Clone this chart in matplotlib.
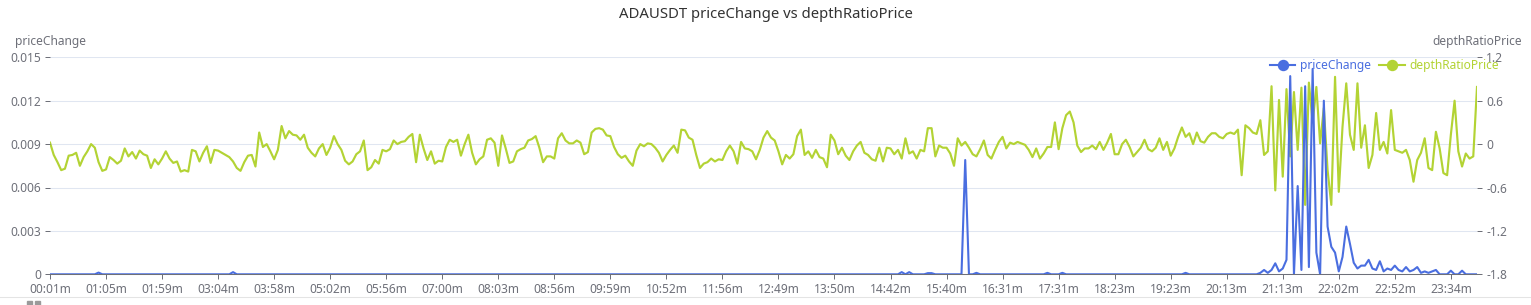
import matplotlib
matplotlib.use('Agg')
import matplotlib.pyplot as plt
from matplotlib.lines import Line2D
from matplotlib.patches import Rectangle
import numpy as np

plt.rcParams['font.family'] = ['Noto Sans', 'DejaVu Sans']

# ---------------- data ----------------
title = 'ADAUSDT priceChange vs depthRatioPrice'
tick_labels = ['00:01m', '01:05m', '01:59m', '03:04m', '03:58m', '05:02m', '05:56m',
               '07:00m', '08:03m', '08:56m', '09:59m', '10:52m', '11:56m', '12:49m',
               '13:50m', '14:42m', '15:40m', '16:31m', '17:31m', '18:23m', '19:23m',
               '20:13m', '21:13m', '22:02m', '22:52m', '23:34m']
label_every = 15

price_change = [
    0, 0, 0, 0, 0, 0, 0, 0, 0, 0, 0, 0, 0, 0.00012, 0,
    0, 0, 0, 0, 0, 0, 0, 0, 0, 0, 0, 0, 0, 0, 0,
    0, 0, 0, 0, 0, 0, 0, 0, 0, 0, 0, 0, 0, 0, 0,
    0, 0, 0, 0, 0.00015, 0, 0, 0, 0, 0, 0, 0, 0, 0, 0,
    0, 0, 0, 0, 0, 0, 0, 0, 0, 0, 0, 0, 0, 0, 0,
    0, 0, 0, 0, 0, 0, 0, 0, 0, 0, 0, 0, 0, 0, 0,
    0, 0, 0, 0, 0, 0, 0, 0, 0, 0, 0, 0, 0, 0, 0,
    0, 0, 0, 0, 0, 0, 0, 0, 0, 0, 0, 0, 0, 0, 0,
    0, 0, 0, 0, 0, 0, 0, 0, 0, 0, 0, 0, 0, 0, 0,
    0, 0, 0, 0, 0, 0, 0, 0, 0, 0, 0, 0, 0, 0, 0,
    0, 0, 0, 0, 0, 0, 0, 0, 0, 0, 0, 0, 0, 0, 0,
    0, 0, 0, 0, 0, 0, 0, 0, 0, 0, 0, 0, 0, 0, 0,
    0, 0, 0, 0, 0, 0, 0, 0, 0, 0, 0, 0, 0, 0, 0,
    0, 0, 0, 0, 0, 0, 0, 0, 0, 0, 0, 0, 0, 0, 0,
    0, 0, 0, 0, 0, 0, 0, 0, 0, 0, 0, 0, 0, 0, 0,
    0, 0, 0, 0.00015, 0, 0.00015, 0, 0, 0, 0, 0.00008, 0.00008, 0, 0, 0,
    0, 0, 0, 0, 0, 0.0079, 0, 0, 0.0001, 0, 0, 0, 0, 0, 0,
    0, 0, 0, 0, 0, 0, 0, 0, 0, 0, 0, 0, 0.0001, 0, 0,
    0, 0.0001, 0, 0, 0, 0, 0, 0, 0, 0, 0, 0, 0, 0, 0,
    0, 0, 0, 0, 0, 0, 0, 0, 0, 0, 0, 0, 0, 0, 0,
    0, 0, 0, 0, 0.0001, 0, 0, 0, 0, 0, 0, 0, 0, 0, 0,
    0, 0, 0, 0, 0, 0, 0, 0, 0, 0.0001, 0.0003, 0.0001, 0.0003, 0.00076, 0.0002,
    0.0004, 0.001, 0.0137, 0.0, 0.0061, 0.0003, 0.013, 0.0005, 0.0142, 0.0015, 0.0, 0.012, 0.0033, 0.0019, 0.0015,
    0.0002, 0.0012, 0.0033, 0.0021, 0.0008, 0.0004, 0.0006, 0.0006, 0.001, 0.0004, 0.0003, 0.0009, 0.0002, 0.0004, 0.0003,
    0.0006, 0.0003, 0.0002, 0.0005, 0.0002, 0.0003, 0.0005, 0.0001, 0.0002, 0.0001, 0.0002, 0.0003, 0, 0, 0,
    0.00025, 0, 0, 0.00025, 0, 0, 0, 0,
]

depth_ratio_price = [
    0.02, -0.15, -0.25, -0.36, -0.34, -0.16, -0.15, -0.12, -0.30, -0.18, -0.10, 0.0, -0.05, -0.25, -0.37,
    -0.35, -0.18, -0.22, -0.27, -0.23, -0.06, -0.17, -0.11, -0.20, -0.09, -0.14, -0.16, -0.33, -0.21, -0.28,
    -0.20, -0.10, -0.20, -0.26, -0.24, -0.38, -0.36, -0.38, -0.08, -0.10, -0.24, -0.12, -0.03, -0.26, -0.08,
    -0.09, -0.12, -0.15, -0.18, -0.24, -0.33, -0.37, -0.25, -0.16, -0.15, -0.31, 0.16, -0.04, 0.0, -0.10,
    -0.21, -0.08, 0.25, 0.08, 0.18, 0.13, 0.12, 0.06, 0.13, -0.05, -0.12, -0.17, -0.06, 0.0, -0.15,
    -0.05, 0.11, 0.0, -0.08, -0.23, -0.28, -0.24, -0.14, -0.10, 0.05, -0.36, -0.32, -0.22, -0.27, -0.08,
    -0.10, -0.07, 0.05, 0.0, 0.03, 0.04, 0.10, 0.14, -0.25, 0.13, -0.06, -0.22, -0.10, -0.27, -0.23,
    -0.24, -0.04, 0.06, 0.03, 0.06, -0.16, 0.0, 0.13, -0.12, -0.28, -0.21, -0.17, 0.06, 0.08, 0.02,
    -0.30, 0.12, -0.06, -0.26, -0.24, -0.10, -0.07, -0.05, 0.05, 0.07, 0.11, -0.05, -0.25, -0.17, -0.17,
    -0.20, 0.08, 0.15, 0.05, 0.01, 0.01, 0.05, 0.02, -0.14, -0.11, 0.16, 0.21, 0.22, 0.20, 0.12,
    0.11, -0.04, -0.14, -0.19, -0.16, -0.24, -0.30, -0.09, 0.0, -0.03, 0.01, 0.0, -0.05, -0.12, -0.24,
    -0.15, -0.08, -0.02, -0.12, 0.20, 0.19, 0.09, 0.06, -0.15, -0.33, -0.27, -0.25, -0.20, -0.24, -0.21,
    -0.22, -0.10, -0.02, -0.10, -0.27, 0.03, -0.06, -0.07, -0.10, -0.21, -0.08, 0.09, 0.18, 0.09, 0.05,
    -0.10, -0.28, -0.15, -0.20, -0.14, 0.11, 0.20, -0.15, -0.10, -0.19, -0.08, -0.18, -0.20, -0.32, 0.13,
    0.05, -0.14, -0.05, -0.16, -0.22, -0.10, -0.02, 0.03, -0.12, -0.15, -0.21, -0.23, -0.05, -0.24, -0.05,
    -0.06, -0.14, -0.08, -0.20, 0.08, -0.13, -0.10, -0.20, -0.08, -0.10, 0.22, 0.22, -0.17, -0.02, -0.05,
    -0.05, -0.13, -0.30, 0.08, -0.02, 0.03, -0.05, -0.14, -0.17, -0.07, 0.05, -0.15, -0.20, -0.08, 0.03,
    0.10, -0.06, 0.02, 0.0, 0.03, 0.01, -0.01, -0.08, -0.18, -0.06, -0.20, -0.13, -0.04, -0.04, 0.30,
    -0.07, 0.22, 0.40, 0.45, 0.30, -0.02, -0.11, -0.06, -0.06, -0.02, -0.07, 0.03, -0.08, 0.02, 0.14,
    -0.14, -0.14, 0.0, 0.06, -0.04, -0.17, -0.11, -0.05, 0.06, -0.07, -0.10, -0.05, 0.08, -0.08, 0.03,
    -0.16, -0.06, 0.10, 0.23, 0.10, 0.15, 0.0, 0.16, 0.04, 0.02, 0.10, 0.15, 0.15, 0.10, 0.08,
    0.14, 0.16, 0.14, 0.20, -0.43, 0.26, 0.22, 0.16, 0.14, 0.33, -0.15, -0.10, 0.80, -0.64, 0.61,
    -0.45, 0.76, -0.17, 0.72, -0.08, 0.78, -0.84, 0.85, 0.30, 0.79, 0.01, 0.50, -0.36, -0.84, 0.93,
    -0.66, 0.24, 0.84, 0.13, -0.08, 0.84, -0.05, 0.26, -0.33, -0.15, 0.43, -0.08, 0.03, -0.13, 0.47,
    -0.08, -0.10, -0.12, -0.08, -0.22, -0.52, -0.22, -0.12, 0.08, -0.33, -0.36, 0.17, -0.06, -0.40, -0.43,
    0.13, 0.60, -0.10, -0.31, -0.13, -0.20, -0.17, 0.79,
]

left_ticks = [0, 0.003, 0.006, 0.009, 0.012, 0.015]
left_tick_labels = ['0', '0.003', '0.006', '0.009', '0.012', '0.015']
right_ticks = [-1.8, -1.2, -0.6, 0, 0.6, 1.2]
right_tick_labels = ['-1.8', '-1.2', '-0.6', '0', '0.6', '1.2']

# ---------------- style ----------------
BLUE = '#4a6ee0'
GREEN = '#b3d334'
AXC = '#6E7079'
GRID = '#E0E6F1'
FS = 8.64  # 12 px

W, H = 1531, 305
fig = plt.figure(figsize=(W / 100, H / 100), dpi=100)
L, R, T, B = 50, 1477, 57.3, 274.3
ax = fig.add_axes([L / W, 1 - B / H, (R - L) / W, (B - T) / H])
ax2 = ax.twinx()

n = len(depth_ratio_price)
x = np.arange(n)

ax2.plot(x, depth_ratio_price, color=GREEN, lw=1.55, solid_joinstyle='round')
ax.plot(x, price_change, color=BLUE, lw=1.5, solid_joinstyle='round', zorder=3)
ax.set_zorder(ax2.get_zorder() + 1)
ax.patch.set_visible(False)

ax.set_xlim(0, n - 1)
ax.set_ylim(0, 0.015)
ax2.set_ylim(-1.8, 1.2)

ax.set_yticks(left_ticks)
ax.set_yticklabels(left_tick_labels)
ax2.set_yticks(right_ticks)
ax2.set_yticklabels(right_tick_labels)
ax.set_xticks(np.arange(0, n, label_every)[:len(tick_labels)])
ax.set_xticklabels(tick_labels)

for a in (ax, ax2):
    for s in a.spines.values():
        s.set_visible(False)
ax.spines['bottom'].set_visible(True)
ax.spines['bottom'].set_color(AXC)
ax.spines['bottom'].set_linewidth(0.75)

ax2.yaxis.grid(True, color=GRID, lw=0.75)
ax2.set_axisbelow(True)

ax.tick_params(axis='x', direction='out', length=3.6, width=0.72, color=AXC,
               labelcolor=AXC, labelsize=FS, pad=2.5)
ax.tick_params(axis='y', direction='out', length=3.6, width=0.72, color=AXC,
               labelcolor=AXC, labelsize=FS, pad=2.9)
ax2.tick_params(axis='y', direction='out', length=3.6, width=0.72, color=AXC,
                labelcolor=AXC, labelsize=FS, pad=2.9)

# axis names
fig.text(L / W, 1 - 41 / H, 'priceChange', ha='center', va='center', color=AXC, fontsize=FS)
fig.text(R / W, 1 - 41 / H, 'depthRatioPrice', ha='center', va='center', color=AXC, fontsize=FS)

# title
fig.text(0.5, 1 - 15 / H, title, ha='center', va='center', color='#333333', fontsize=10.7)

# legend
handles = [Line2D([0], [0], color=BLUE, lw=1.5, marker='o', markersize=7.2),
           Line2D([0], [0], color=GREEN, lw=1.5, marker='o', markersize=7.2)]
fig.legend(handles, ['priceChange', 'depthRatioPrice'], loc='center',
           bbox_to_anchor=(1384.5 / W, 1 - 66 / H), ncol=2, frameon=False,
           labelcolor='linecolor', fontsize=FS, handlelength=2.1,
           handletextpad=0.4, columnspacing=0.7, borderpad=0, borderaxespad=0)

# bottom slider remnants
fig.add_artist(Line2D([0, 1], [1 - 296.5 / H] * 2, color='#e4e4e4', lw=0.75,
                      transform=fig.transFigure))
fig.add_artist(Rectangle((27 / W, 0), 5 / W, 4.5 / H, color='#9a9a9a', transform=fig.transFigure))
fig.add_artist(Rectangle((35 / W, 0), 5 / W, 4.5 / H, color='#9a9a9a', transform=fig.transFigure))

fig.savefig('out.png', dpi=100)
